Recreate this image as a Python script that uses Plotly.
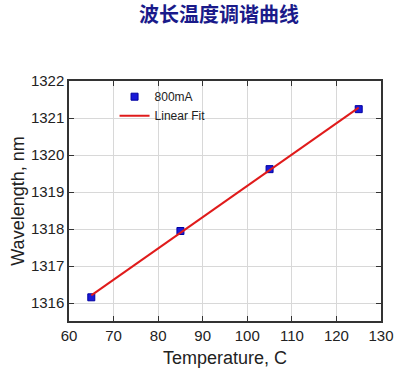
import plotly.graph_objects as go

temps = [65, 85, 105, 125]
wavelengths = [1316.16, 1317.95, 1319.62, 1321.24]
fit_x = [65, 125]
fit_y = [1316.21, 1321.28]
x_ticks = [60, 70, 80, 90, 100, 110, 120, 130]
y_ticks = [1316, 1317, 1318, 1319, 1320, 1321, 1322]

fig = go.Figure()
fig.add_trace(go.Scatter(x=temps, y=wavelengths, mode="markers", name="800mA",
                         marker=dict(symbol="square", size=7, color="#1a1ad8",
                                     line=dict(color="#0000a0", width=1))))
fig.add_trace(go.Scatter(x=fit_x, y=fit_y, mode="lines", name="Linear Fit",
                         line=dict(color="#e01b1b", width=2)))

axis_common = dict(showline=True, linecolor="#333333", linewidth=1.5, mirror="ticks",
                   ticks="inside", ticklen=5, tickcolor="#333333", automargin=False,
                   showgrid=True, gridcolor="#d8d8d8", gridwidth=1, zeroline=False,
                   tickfont=dict(family="Liberation Sans, Arial", size=15, color="#222222"))

fig.update_layout(
    width=395, height=376,
    margin=dict(l=69, r=14, t=81, b=55),
    paper_bgcolor="white", plot_bgcolor="white",
    title=dict(text="<b>波长温度调谐曲线</b>", x=219/395, xanchor="center", y=1-15/376, yanchor="middle",
               font=dict(family="Noto Sans CJK SC", size=20, color="#1a1a8a")),
    xaxis=dict(range=[60, 130], tickvals=x_ticks,
               title=dict(text="Temperature, C", standoff=9,
                          font=dict(family="Liberation Sans, Arial", size=18, color="#222222")),
               **axis_common),
    yaxis=dict(range=[1315.52, 1322], tickvals=y_ticks,
               title=dict(text="Wavelength, nm", standoff=2,
                          font=dict(family="Liberation Sans, Arial", size=18, color="#222222")),
               **axis_common),
    legend=dict(x=0.146, y=0.995, xanchor="left", yanchor="top", bgcolor="rgba(0,0,0,0)",
                font=dict(family="Liberation Sans, Arial", size=12, color="#222222"),
                tracegroupgap=0, itemwidth=30),
    showlegend=True,
)
fig.write_html("out.html", config={"displayModeBar": False},
               post_script="document.body.style.margin='0';")
